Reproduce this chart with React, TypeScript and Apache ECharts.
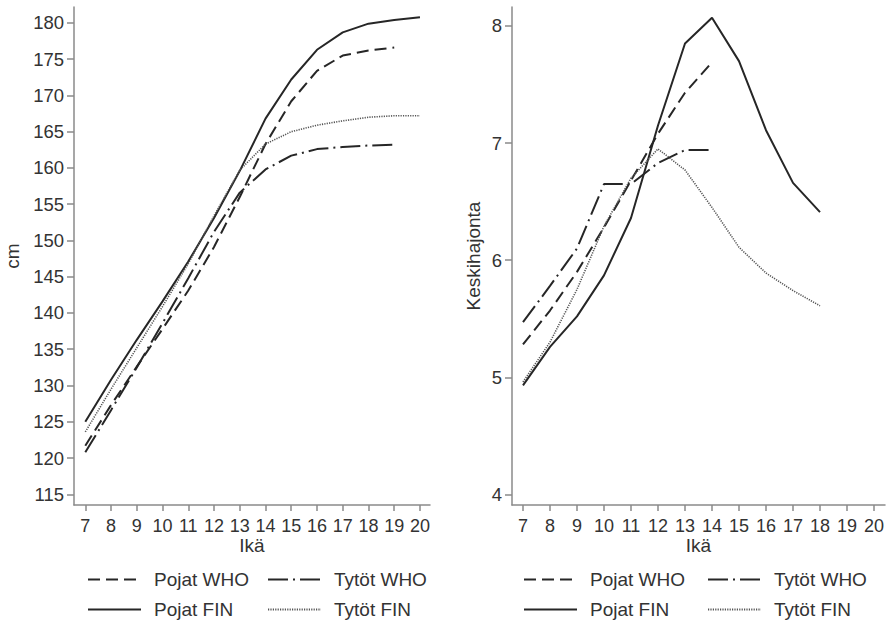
import React, { useEffect, useRef } from "react";
import * as echarts from "echarts";

// ---- data ----
const agesFinHeight = [7, 8, 9, 10, 11, 12, 13, 14, 15, 16, 17, 18, 19, 20];
const agesWhoHeight = [7, 8, 9, 10, 11, 12, 13, 14, 15, 16, 17, 18, 19];
const pojatFinHeight = [125.0, 130.8, 136.3, 141.6, 147.1, 153.1, 159.6, 166.8, 172.2, 176.3, 178.7, 179.9, 180.4, 180.8];
const tytotFinHeight = [123.6, 129.5, 135.2, 140.9, 146.8, 153.4, 159.7, 163.3, 165.0, 165.9, 166.5, 167.0, 167.2, 167.2];
const pojatWhoHeight = [121.7, 127.3, 132.6, 137.8, 143.1, 149.1, 156.0, 163.3, 169.2, 173.4, 175.5, 176.2, 176.6];
const tytotWhoHeight = [120.8, 126.6, 132.5, 138.6, 144.8, 151.2, 156.6, 159.8, 161.7, 162.6, 162.9, 163.1, 163.2];

const agesFinSd = [7, 8, 9, 10, 11, 12, 13, 14, 15, 16, 17, 18];
const agesWhoSd = [7, 8, 9, 10, 11, 12, 13, 14];
const pojatFinSd = [4.93, 5.26, 5.52, 5.87, 6.36, 7.15, 7.85, 8.07, 7.70, 7.11, 6.66, 6.41];
const tytotFinSd = [4.96, 5.30, 5.75, 6.29, 6.70, 6.95, 6.77, 6.45, 6.11, 5.89, 5.74, 5.61];
const pojatWhoSd = [5.28, 5.57, 5.90, 6.28, 6.68, 7.08, 7.43, 7.69];
const tytotWhoSd = [5.47, 5.78, 6.10, 6.65, 6.65, 6.83, 6.94, 6.94];

const ageTicks = [7, 8, 9, 10, 11, 12, 13, 14, 15, 16, 17, 18, 19, 20];
const heightTicks = [115, 120, 125, 130, 135, 140, 145, 150, 155, 160, 165, 170, 175, 180];
const sdTicks = [4, 5, 6, 7, 8];

const seriesNames = ["Pojat WHO", "Tytöt WHO", "Pojat FIN", "Tytöt FIN"];

const FONT = '"Liberation Sans", Arial, Helvetica, sans-serif';
const AXIS_COLOR = "#8a8a8a";
const TEXT_COLOR = "#333333";
const LINE_COLOR = "#262626";
const TICK_FONT = 18;
const TITLE_FONT = 19;
const LEGEND_FONT = 19;

const lineStyles: Record<string, any> = {
  "Pojat WHO": { color: LINE_COLOR, width: 2, type: [12, 6] },
  "Tytöt WHO": { color: LINE_COLOR, width: 2, type: [20, 5, 2, 5] },
  "Pojat FIN": { color: LINE_COLOR, width: 2, type: "solid" },
  "Tytöt FIN": { color: "#555555", width: 1.6, type: [1.2, 1.2] },
};

const pairs = (xs: number[], ys: number[]) => xs.map((x, i) => [x, ys[i]]);

function xAxisCfg(gridIndex: number, min: number, max: number) {
  return {
    type: "value",
    gridIndex,
    min,
    max,
    name: "Ikä",
    nameLocation: "middle",
    nameGap: 31,
    nameMoveOverlap: false,
    nameTextStyle: { fontFamily: FONT, fontSize: TITLE_FONT, color: TEXT_COLOR },
    axisLine: { show: true, lineStyle: { color: AXIS_COLOR, width: 1.5 } },
    axisTick: { show: true, length: 6, lineStyle: { color: AXIS_COLOR, width: 1.5 }, customValues: ageTicks },
    axisLabel: { fontFamily: FONT, fontSize: TICK_FONT, color: TEXT_COLOR, margin: 12, customValues: ageTicks },
    splitLine: { show: false },
  };
}

function yAxisCfg(gridIndex: number, min: number, max: number, ticks: number[], name: string, nameGap: number) {
  return {
    type: "value",
    gridIndex,
    min,
    max,
    name,
    nameLocation: "middle",
    nameGap,
    nameMoveOverlap: false,
    nameTextStyle: { fontFamily: FONT, fontSize: TITLE_FONT, color: TEXT_COLOR },
    axisLine: { show: true, lineStyle: { color: AXIS_COLOR, width: 1.5 } },
    axisTick: { show: true, length: 7, lineStyle: { color: AXIS_COLOR, width: 1.5 }, customValues: ticks },
    axisLabel: { fontFamily: FONT, fontSize: 18.5, color: TEXT_COLOR, margin: 10, customValues: ticks },
    splitLine: { show: false },
  };
}

function legendCfg(name: string, left: number, top: number) {
  return {
    data: [name],
    left,
    top,
    padding: 0,
    itemWidth: 53,
    itemHeight: 14,
    selectedMode: false,
    itemStyle: { opacity: 0 },
    textStyle: { fontFamily: FONT, fontSize: LEGEND_FONT, color: TEXT_COLOR, padding: [0, 0, 0, 8] },
  };
}

export default function App() {
  const ref = useRef<HTMLDivElement>(null);

  useEffect(() => {
    if (!ref.current) return;
    const chart = echarts.init(ref.current, undefined, { renderer: "svg" });

    const mk = (name: string, data: number[][], idx: number) => ({
      name,
      type: "line",
      xAxisIndex: idx,
      yAxisIndex: idx,
      data,
      symbol: "none",
      showSymbol: false,
      lineStyle: lineStyles[name],
      itemStyle: { color: lineStyles[name].color },
      emphasis: { disabled: true },
    });

    const option = {
      animation: false,
      backgroundColor: "#ffffff",
      textStyle: { fontFamily: FONT },
      grid: [
        { left: 74, right: 466, top: 7, bottom: 116, containLabel: false },
        { left: 512, right: 11, top: 7, bottom: 116, containLabel: false },
      ],
      xAxis: [xAxisCfg(0, 6.561, 20.39), xAxisCfg(1, 6.593, 20.407)],
      yAxis: [
        yAxisCfg(0, 113.52, 182.2, heightTicks, "cm", 52),
        yAxisCfg(1, 3.909, 8.162, sdTicks, "Keskihajonta", 29),
      ],
      legend: [
        legendCfg(seriesNames[0], 87, 570),
        legendCfg(seriesNames[1], 267, 570),
        legendCfg(seriesNames[2], 87, 600),
        legendCfg(seriesNames[3], 267, 600),
        legendCfg(seriesNames[0], 523, 570),
        legendCfg(seriesNames[1], 707, 570),
        legendCfg(seriesNames[2], 523, 600),
        legendCfg(seriesNames[3], 707, 600),
      ],
      series: [
        mk("Pojat WHO", pairs(agesWhoHeight, pojatWhoHeight), 0),
        mk("Tytöt WHO", pairs(agesWhoHeight, tytotWhoHeight), 0),
        mk("Pojat FIN", pairs(agesFinHeight, pojatFinHeight), 0),
        mk("Tytöt FIN", pairs(agesFinHeight, tytotFinHeight), 0),
        mk("Pojat WHO", pairs(agesWhoSd, pojatWhoSd), 1),
        mk("Tytöt WHO", pairs(agesWhoSd, tytotWhoSd), 1),
        mk("Pojat FIN", pairs(agesFinSd, pojatFinSd), 1),
        mk("Tytöt FIN", pairs(agesFinSd, tytotFinSd), 1),
      ],
    };

    chart.setOption(option as any);
    return () => chart.dispose();
  }, []);

  return (
    <div
      ref={ref}
      style={{ position: "fixed", left: 0, top: 0, width: 896, height: 621, background: "#fff" }}
    />
  );
}
